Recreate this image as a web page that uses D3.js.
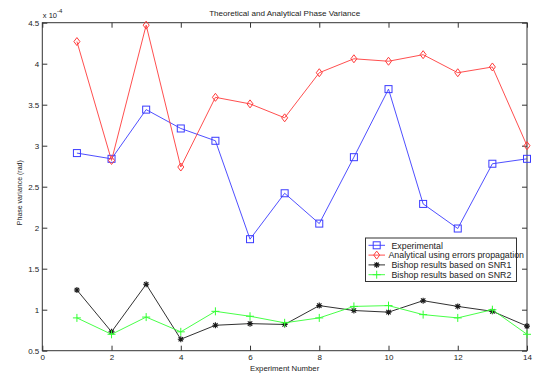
<!DOCTYPE html>
<html>
<head>
<meta charset="utf-8">
<style>
  body { margin: 0; background: #fff; }
  text { font-family: "Liberation Sans", Arial, sans-serif; fill: #222; }
</style>
</head>
<body>
<svg width="537" height="375"></svg>
<script src="https://cdn.jsdelivr.net/npm/d3@7/dist/d3.min.js"></script>
<script>
// experiment numbers 1..14, values in units of 1e-4 rad
var experiments = [1, 2, 3, 4, 5, 6, 7, 8, 9, 10, 11, 12, 13, 14];
var experimental = [2.91, 2.84, 3.44, 3.21, 3.06, 1.86, 2.42, 2.05, 2.86, 3.69, 2.29, 1.99, 2.78, 2.84];
var analytical   = [4.27, 2.82, 4.47, 2.74, 3.59, 3.51, 3.34, 3.89, 4.06, 4.03, 4.11, 3.89, 3.96, 3.00];
var bishopSnr1   = [1.24, 0.73, 1.31, 0.64, 0.81, 0.83, 0.82, 1.05, 0.99, 0.97, 1.11, 1.04, 0.98, 0.80];
var bishopSnr2   = [0.90, 0.70, 0.91, 0.73, 0.98, 0.92, 0.84, 0.90, 1.04, 1.05, 0.94, 0.90, 1.00, 0.70];
var seriesNames = ["Experimental", "Analytical using errors propagation", "Bishop results based on SNR1", "Bishop results based on SNR2"];
var xTicks = [0, 2, 4, 6, 8, 10, 12, 14];
var yTicks = [0.5, 1, 1.5, 2, 2.5, 3, 3.5, 4, 4.5];

var svg = d3.select("svg");
var plotL = 42.3, plotR = 527, plotT = 22.7, plotB = 350.7;

var x = d3.scaleLinear().domain([0, 14]).range([plotL, plotR]);
var y = d3.scaleLinear().domain([0.5, 4.5]).range([plotB, plotT]);

var series = [
  {name: seriesNames[0], values: experimental, color: "#3b3bff", marker: "square"},
  {name: seriesNames[1], values: analytical, color: "#ff3b3b", marker: "diamond"},
  {name: seriesNames[2], values: bishopSnr1, color: "#1a1a1a", marker: "star"},
  {name: seriesNames[3], values: bishopSnr2, color: "#33ff33", marker: "plus"}
];

// axes box with inward ticks on all four sides
var axisColor = "#333";
svg.append("rect").attr("x", plotL).attr("y", plotT)
  .attr("width", plotR - plotL).attr("height", plotB - plotT)
  .attr("fill", "none").attr("stroke", axisColor).attr("stroke-width", 1);

function styleAxis(g) {
  g.select(".domain").remove();
  g.selectAll(".tick line").attr("stroke", axisColor);
  g.selectAll(".tick text").attr("font-size", 8).attr("fill", "#222")
    .style("font-family", '"Liberation Sans", Arial, sans-serif');
}

svg.append("g").attr("transform", "translate(0," + plotB + ")")
  .call(d3.axisBottom(x).tickValues(xTicks).tickSize(-5).tickPadding(4).tickFormat(d3.format("d")))
  .call(styleAxis);
svg.append("g").attr("transform", "translate(0," + plotT + ")")
  .call(d3.axisTop(x).tickValues(xTicks).tickSize(-5).tickFormat(""))
  .call(styleAxis);
svg.append("g").attr("transform", "translate(" + plotL + ",0)")
  .call(d3.axisLeft(y).tickValues(yTicks).tickSize(-5).tickPadding(3).tickFormat(function(d){ return d; }))
  .call(styleAxis);
svg.append("g").attr("transform", "translate(" + plotR + ",0)")
  .call(d3.axisRight(y).tickValues(yTicks).tickSize(-5).tickFormat(""))
  .call(styleAxis);

// scale exponent label
var expo = svg.append("text").attr("x", plotL + 0.5).attr("y", 17.5).attr("font-size", 7.5);
expo.append("tspan").text("x 10");
expo.append("tspan").attr("dy", -5).attr("font-size", 6).text("-4");

// titles
svg.append("text").attr("x", (plotL + plotR) / 2).attr("y", 15.5)
  .attr("text-anchor", "middle").attr("font-size", 8.1)
  .text("Theoretical and Analytical Phase Variance");
svg.append("text").attr("x", (plotL + plotR) / 2).attr("y", 371)
  .attr("text-anchor", "middle").attr("font-size", 7.8)
  .text("Experiment Number");
svg.append("text").attr("transform", "translate(22," + ((plotT + plotB) / 2 + 6) + ") rotate(-90)")
  .attr("text-anchor", "middle").attr("font-size", 7)
  .text("Phase variance (rad)");

function drawMarker(g, type, color) {
  if (type === "square") {
    g.append("rect").attr("x", -3.5).attr("y", -3.5).attr("width", 7).attr("height", 7)
      .attr("fill", "none").attr("stroke", color);
  } else if (type === "diamond") {
    g.append("path").attr("d", "M0,-4L3,0L0,4L-3,0Z").attr("fill", "none").attr("stroke", color);
  } else if (type === "star") {
    g.append("path").attr("d", "M-3,0H3M0,-3V3M-2.2,-2.2L2.2,2.2M-2.2,2.2L2.2,-2.2")
      .attr("stroke", color).attr("stroke-width", 1.1);
  } else {
    g.append("path").attr("d", "M-4,0H4M0,-4V4").attr("stroke", color);
  }
}

var line = d3.line().x(function(d, i){ return x(experiments[i]); }).y(function(d){ return y(d); });

series.forEach(function(s) {
  svg.append("path").datum(s.values).attr("d", line)
    .attr("fill", "none").attr("stroke", s.color).attr("stroke-width", 0.9);
  svg.selectAll(null).data(s.values).enter().append("g")
    .attr("transform", function(d, i){ return "translate(" + x(experiments[i]) + "," + y(d) + ")"; })
    .each(function(){ drawMarker(d3.select(this), s.marker, s.color); });
});

// legend
var lg = svg.append("g");
lg.append("rect").attr("x", 365.5).attr("y", 238).attr("width", 151).attr("height", 43.5)
  .attr("fill", "#fff").attr("stroke", axisColor);
var textX = [391.5, 388.5, 391.5, 391.5];
series.forEach(function(s, i) {
  var ry = 245.3 + i * 9.8;
  lg.append("line").attr("x1", 368.5).attr("x2", 385).attr("y1", ry).attr("y2", ry)
    .attr("stroke", s.color).attr("stroke-width", 0.9);
  drawMarker(lg.append("g").attr("transform", "translate(376.7," + ry + ")"), s.marker, s.color);
  lg.append("text").attr("x", textX[i]).attr("y", ry + 3.2).attr("font-size", 8.8).text(s.name);
});
</script>
</body>
</html>
